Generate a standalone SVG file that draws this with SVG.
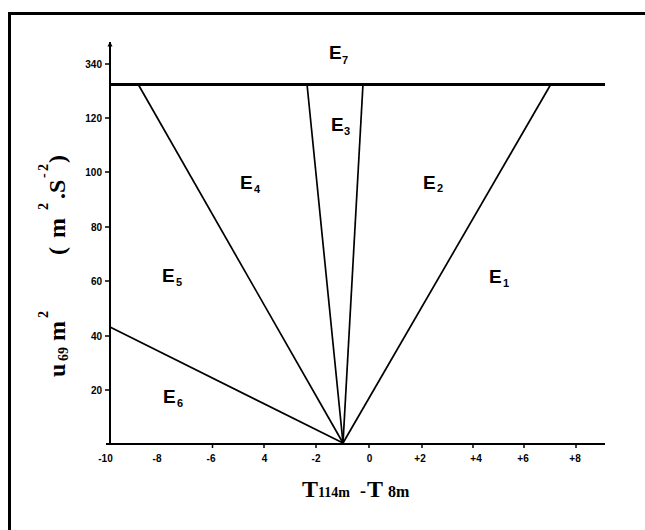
<svg xmlns="http://www.w3.org/2000/svg" width="645" height="530" viewBox="0 0 645 530">
<style>
.ax{stroke:#000;stroke-width:2;fill:none}
.tk{stroke:#000;stroke-width:1.5}
.ln{stroke:#000;stroke-width:1.7;fill:none}
.tl{font-family:"Liberation Sans",Arial,sans-serif;font-weight:bold;font-size:10px;fill:#000}
.e{font-family:"Liberation Sans",Arial,sans-serif;font-weight:bold;font-size:19px;fill:#000}
.es{font-size:11px}
.ti{font-family:"Liberation Serif","Times New Roman",serif;font-weight:bold;fill:#000}
</style>
<defs>
<marker id="arr" viewBox="0 0 10 10" refX="9" refY="5" markerWidth="5" markerHeight="6" markerUnits="userSpaceOnUse" orient="auto">
<path d="M0,0 L10,5 L0,10 z" fill="#000"/>
</marker>
</defs>
<rect x="0" y="0" width="645" height="530" fill="#fff"/>
<path id="frame" d="M9.5,531 L9.5,13.5 L646,13.5" fill="none" stroke="#000" stroke-width="3"/>
<g id="axes">
<line class="ax" x1="110" y1="445" x2="110" y2="42" marker-end="url(#arr)"/>
<line class="ax" x1="106" y1="444" x2="605" y2="444"/>
<g id="yticks">
<line class="tk" x1="105" y1="64" x2="110" y2="64"/>
<line class="tk" x1="105" y1="118" x2="110" y2="118"/>
<line class="tk" x1="105" y1="172" x2="110" y2="172"/>
<line class="tk" x1="105" y1="227" x2="110" y2="227"/>
<line class="tk" x1="105" y1="281" x2="110" y2="281"/>
<line class="tk" x1="105" y1="336" x2="110" y2="336"/>
<line class="tk" x1="105" y1="390" x2="110" y2="390"/>
</g>
<g id="xticks">
<line class="tk" x1="212.5" y1="444" x2="212.5" y2="448"/>
<line class="tk" x1="264" y1="444" x2="264" y2="448"/>
<line class="tk" x1="316" y1="444" x2="316" y2="448"/>
<line class="tk" x1="369" y1="444" x2="369" y2="448"/>
<line class="tk" x1="422" y1="444" x2="422" y2="448"/>
<line class="tk" x1="473" y1="444" x2="473" y2="448"/>
<line class="tk" x1="524" y1="444" x2="524" y2="448"/>
<line class="tk" x1="576" y1="444" x2="576" y2="448"/>
</g>
<g id="ylabels" text-anchor="end">
<text class="tl" x="102" y="68">340</text>
<text class="tl" x="102" y="122">120</text>
<text class="tl" x="102" y="176">100</text>
<text class="tl" x="102" y="231">80</text>
<text class="tl" x="102" y="285">60</text>
<text class="tl" x="102" y="340">40</text>
<text class="tl" x="102" y="394">20</text>
</g>
<g id="xlabels" text-anchor="middle">
<text class="tl" x="105.5" y="462">-10</text>
<text class="tl" x="157" y="462">-8</text>
<text class="tl" x="211" y="462">-6</text>
<text class="tl" x="264.5" y="462">4</text>
<text class="tl" x="316" y="462">-2</text>
<text class="tl" x="369.5" y="462">0</text>
<text class="tl" x="420" y="462">+2</text>
<text class="tl" x="476" y="462">+4</text>
<text class="tl" x="523" y="462">+6</text>
<text class="tl" x="575" y="462">+8</text>
</g>
</g>
<g id="connectors">
<line x1="110" y1="84.5" x2="605" y2="84.5" stroke="#000" stroke-width="3"/>
<line class="ln" x1="343" y1="443" x2="110" y2="327"/>
<line class="ln" x1="343" y1="443" x2="138" y2="84"/>
<line class="ln" x1="343" y1="443" x2="307" y2="84"/>
<line class="ln" x1="343" y1="443" x2="363" y2="84"/>
<line class="ln" x1="343" y1="443" x2="551" y2="84"/>
</g>
<g id="E7"><text class="e" x="329" y="59">E<tspan class="es" x="342" y="64">7</tspan></text></g>
<g id="E3"><text class="e" x="331" y="131">E<tspan class="es" x="344" y="135">3</tspan></text></g>
<g id="E4"><text class="e" x="240" y="189">E<tspan class="es" x="254" y="193">4</tspan></text></g>
<g id="E2"><text class="e" x="423" y="189">E<tspan class="es" x="437" y="192">2</tspan></text></g>
<g id="E5"><text class="e" x="162" y="282">E<tspan class="es" x="176" y="286">5</tspan></text></g>
<g id="E1"><text class="e" x="489" y="283">E<tspan class="es" x="503" y="287">1</tspan></text></g>
<g id="E6"><text class="e" x="163" y="403">E<tspan class="es" x="177" y="407">6</tspan></text></g>
<g id="ytitle" transform="translate(65,377) rotate(-90)">
<text class="ti" font-size="24"><tspan x="0" y="0">u</tspan><tspan x="16" y="3" font-size="14">69</tspan><tspan x="36" y="0">m</tspan><tspan x="59" y="-17" font-size="14">2</tspan><tspan x="122" y="0">(</tspan><tspan x="139" y="0">m</tspan><tspan x="167" y="-17" font-size="14">2</tspan><tspan x="178" y="0">.</tspan><tspan x="184" y="0">S</tspan><tspan x="199" y="-17" font-size="14">-</tspan><tspan x="206" y="-17" font-size="14">2</tspan><tspan x="214" y="0">)</tspan></text>
</g>
<g id="xtitle">
<text class="ti" font-size="24"><tspan x="302" y="497">T</tspan><tspan x="318" y="497" font-size="14">114m</tspan><tspan x="360" y="497" font-size="18">-</tspan><tspan x="367" y="497">T</tspan><tspan x="388" y="497" font-size="16">8m</tspan></text>
</g>
</svg>
